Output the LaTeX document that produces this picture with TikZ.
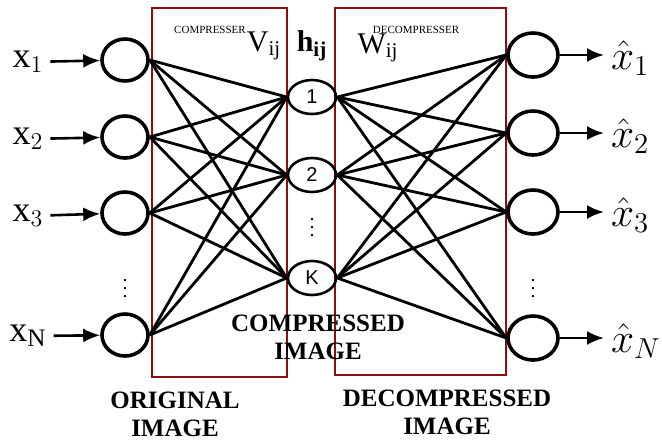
\documentclass[tikz,border=0pt]{standalone}
\usepackage{amsmath,amssymb}
\usepackage{fontspec}
\setmainfont{Liberation Serif}
\newfontfamily\unitfont{Liberation Sans}
\usepackage{xcolor}
\usetikzlibrary{shapes.geometric,arrows.meta}
\definecolor{boxred}{RGB}{140,15,15}

\begin{document}
\begin{tikzpicture}[x=0.5pt,y=-0.5pt,
    unit/.style={draw,ellipse,line width=1.8pt,inner sep=0pt,minimum width=23pt,minimum height=21pt},
    hunit/.style={draw,ellipse,line width=1.3pt,inner sep=0pt,minimum width=24pt,minimum height=17pt,font=\unitfont\fontsize{10}{10}\selectfont},
    wire/.style={line width=1.4pt},
    feed/.style={line width=1.3pt,-{Latex[length=8.5pt,width=7pt]}},
    caption/.style={font=\bfseries\fontsize{12.5}{14}\selectfont,align=center}]
        \useasboundingbox (0,0) rectangle (662,441);
        \draw[boxred,line width=1.3pt] (152,8) rectangle (287,377);
        \draw[boxred,line width=1.3pt] (335,8) rectangle (506,375);

        \node[unit] (in1) at (125,60) {};
        \node[unit] (in2) at (125,137) {};
        \node[unit] (in3) at (125,213) {};
        \node[unit] (inN) at (125,335) {};
        \node (dotsin) at (125,283) {$\vdots$};

        \node[hunit] (h1) at (312,97) {1};
        \node[hunit] (h2) at (312,175) {2};
        \node[hunit] (hK) at (312,278) {K};
        \node (dotsh) at (312,222) {$\vdots$};

        \node[unit,minimum width=25pt,minimum height=22pt] (out1) at (533,55) {};
        \node[unit,minimum width=25pt,minimum height=22pt] (out2) at (533,133) {};
        \node[unit,minimum width=25pt,minimum height=22pt] (out3) at (533,212) {};
        \node[unit,minimum width=25pt,minimum height=22pt] (outN) at (533,338) {};
        \node (dotsout) at (533,283) {$\vdots$};

        \node[font=\fontsize{18}{18}\selectfont] (x1) at (28,62) {x$_{1}$};
        \node[font=\fontsize{18}{18}\selectfont] (x2) at (28,139) {x$_{2}$};
        \node[font=\fontsize{18}{18}\selectfont] (x3) at (28,216) {x$_{3}$};
        \node[font=\fontsize{18}{18}\selectfont] (xN) at (28,336) {x$_{\mathrm{N}}$};
        \draw[feed] (x1) -- (in1);
        \draw[feed] (x2) -- (in2);
        \draw[feed] (x3) -- (in3);
        \draw[feed] (xN) -- (inN);

        \node[font=\fontsize{21}{21}\selectfont,anchor=west] (y1) at (604,58) {$\hat{x}_{1}$};
        \node[font=\fontsize{21}{21}\selectfont,anchor=west] (y2) at (604,136) {$\hat{x}_{2}$};
        \node[font=\fontsize{21}{21}\selectfont,anchor=west] (y3) at (604,215) {$\hat{x}_{3}$};
        \node[font=\fontsize{21}{21}\selectfont,anchor=west] (yN) at (604,341) {$\hat{x}_{N}$};
        \draw[feed] (out1) -- (out1.east -| y1.west);
        \draw[feed] (out2) -- (out2.east -| y2.west);
        \draw[feed] (out3) -- (out3.east -| y3.west);
        \draw[feed] (outN) -- (outN.east -| yN.west);

        % compresser weights
        \draw[wire] (in1.east) -- (h1.west);
        \draw[wire] (in1.east) -- (h2.west);
        \draw[wire] (in1.east) -- (hK.west);
        \draw[wire] (in2.east) -- (h1.west);
        \draw[wire] (in2.east) -- (h2.west);
        \draw[wire] (in2.east) -- (hK.west);
        \draw[wire] (in3.east) -- (h1.west);
        \draw[wire] (in3.east) -- (h2.west);
        \draw[wire] (in3.east) -- (hK.west);
        \draw[wire] (inN.east) -- (h1.west);
        \draw[wire] (inN.east) -- (h2.west);
        \draw[wire] (inN.east) -- (hK.west);

        % decompresser weights
        \draw[wire] (h1.east) -- (out1.west);
        \draw[wire] (h1.east) -- (out2.west);
        \draw[wire] (h1.east) -- (out3.west);
        \draw[wire] (h1.east) -- (outN.west);
        \draw[wire] (h2.east) -- (out1.west);
        \draw[wire] (h2.east) -- (out2.west);
        \draw[wire] (h2.east) -- (out3.west);
        \draw[wire] (h2.east) -- (outN.west);
        \draw[wire] (hK.east) -- (out1.west);
        \draw[wire] (hK.east) -- (out2.west);
        \draw[wire] (hK.east) -- (out3.west);
        \draw[wire] (hK.east) -- (outN.west);

        \node[font=\fontsize{5.5}{6}\selectfont] (comp) at (210,30) {COMPRESSER};
        \node[font=\fontsize{15}{15}\selectfont] (vij) at (264,46) {V$_{\mathrm{ij}}$};
        \node[font=\bfseries\fontsize{15}{15}\selectfont] (hij) at (312,46) {h$_{\mathbf{ij}}$};
        \node[font=\fontsize{5.5}{6}\selectfont] (decomp) at (416,30) {DECOMPRESSER};
        \node[font=\fontsize{15}{15}\selectfont] (wij) at (378,48) {W$_{\mathrm{ij}}$};

        \node[caption] (compimg) at (318,337) {COMPRESSED\\IMAGE};
        \node[caption] (origimg) at (175,414) {ORIGINAL\\IMAGE};
        \node[caption] (decompimg) at (447,412) {DECOMPRESSED\\IMAGE};
\end{tikzpicture}
\end{document}
